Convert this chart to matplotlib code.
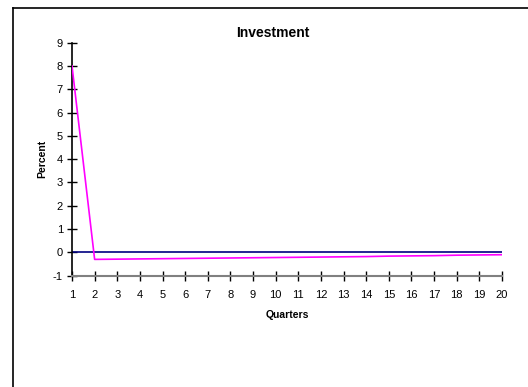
import matplotlib.pyplot as plt
from matplotlib.lines import Line2D

plt.switch_backend("Agg")
plt.rcParams["font.family"] = ["Liberation Sans", "DejaVu Sans"]
plt.rcParams["axes.unicode_minus"] = False

quarters = list(range(1, 21))
investment = [8.0, -0.30, -0.29, -0.28, -0.27, -0.26, -0.25, -0.24, -0.23, -0.22,
              -0.21, -0.20, -0.19, -0.18, -0.16, -0.15, -0.14, -0.12, -0.11, -0.10]
baseline = [0.0] * len(quarters)
y_ticks = list(range(-1, 10))

fig = plt.figure(figsize=(5.28, 3.87), dpi=100)
ax = fig.add_axes([72 / 528, 1 - 275.7 / 387, 430 / 528, 233.1 / 387])

ax.plot(quarters, baseline, color="#000080", linewidth=1.2, zorder=2)
ax.plot(quarters, investment, color="#ff00ff", linewidth=1.2, zorder=3)

ax.set_xlim(1, 20)
ax.set_ylim(-1, 9)
ax.set_xticks(quarters)
ax.set_yticks(y_ticks)
ax.tick_params(axis="both", direction="inout", length=7, width=1, color="black",
               labelsize=8, pad=3)
ax.tick_params(axis="x", pad=7)

for side in ["top", "right"]:
    ax.spines[side].set_visible(False)
ax.spines["left"].set_color("black")
ax.spines["bottom"].set_color("#808080")
ax.spines["left"].set_linewidth(1.2)
ax.spines["bottom"].set_linewidth(1.5)

ax.set_xlabel("Quarters", fontsize=7.5, fontweight="bold", labelpad=7)
ax.set_ylabel("Percent", fontsize=7.5, fontweight="bold", labelpad=4)
fig.text(273 / 528, 1 - 33 / 387, "Investment", ha="center", va="center",
         fontsize=10, fontweight="bold")

# outer chart frame (only top and left edges show)
fig.add_artist(Line2D([13 / 528, 1], [1 - 8 / 387, 1 - 8 / 387], color="black",
                      linewidth=1.2, transform=fig.transFigure))
fig.add_artist(Line2D([13 / 528, 13 / 528], [0, 1 - 8 / 387], color="black",
                      linewidth=1.2, transform=fig.transFigure))

fig.savefig("out.png", dpi=100)
plt.close(fig)
